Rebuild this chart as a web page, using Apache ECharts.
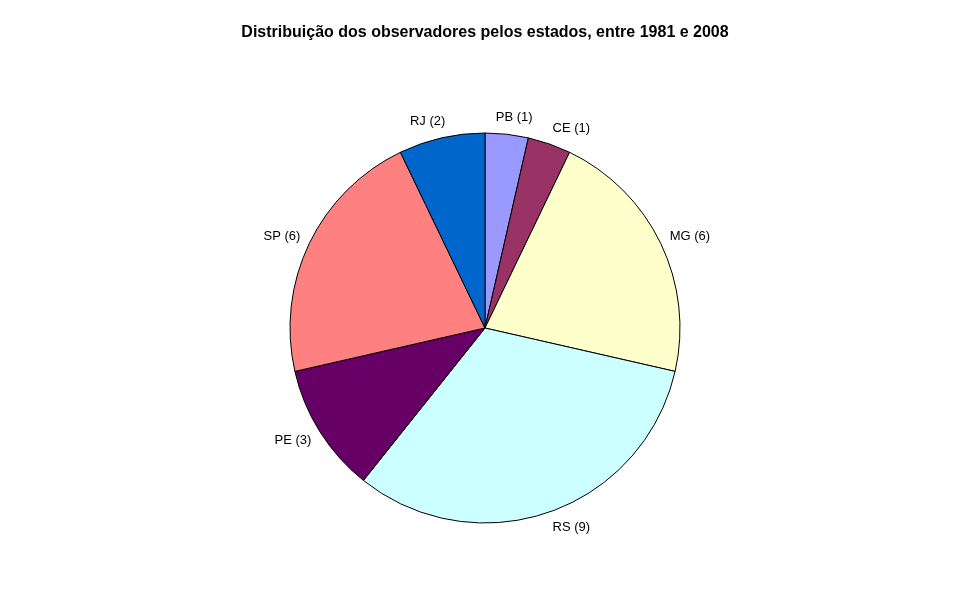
<!DOCTYPE html>
<html>
<head>
<meta charset="utf-8">
<script src="https://cdn.jsdelivr.net/npm/echarts@6/dist/echarts.min.js"></script>
<style>
  html, body { margin: 0; padding: 0; background: #fff; }
  #chart { width: 970px; height: 604px; }
</style>
</head>
<body>
<div id="chart"></div>
<script>
// states, clockwise from 12 o'clock
const states = ['PB', 'CE', 'MG', 'RS', 'PE', 'SP', 'RJ'];
const observers = [1, 1, 6, 9, 3, 6, 2];
const sliceColors = ['#9999ff', '#993366', '#ffffcc', '#ccffff', '#660066', '#ff8080', '#0066cc'];

const chart = echarts.init(document.getElementById('chart'));
const option = {
  animation: false,
  backgroundColor: '#ffffff',
  title: {
    text: 'Distribuição dos observadores pelos estados, entre 1981 e 2008',
    left: 'center', top: 20,
    textStyle: { fontFamily: 'Liberation Sans', fontSize: 16, fontWeight: 'bold', color: '#000' }
  },
  series: [{
    type: 'pie',
    center: ['50%', 328],
    radius: 195,
    startAngle: 90,
    clockwise: true,
    avoidLabelOverlap: false,
    emphasis: { disabled: true },
    data: states.map((s, i) => ({ name: s, value: observers[i], itemStyle: { color: sliceColors[i] } })),
    itemStyle: { borderColor: '#000', borderWidth: 1 },
    label: {
      position: 'outside',
      formatter: p => p.name + ' (' + p.value + ')',
      fontFamily: 'Liberation Sans', fontSize: 13, color: '#000'
    },
    // line kept only to get the anchor point, it is not drawn
    labelLine: { show: true, length: 10, length2: 0, lineStyle: { opacity: 0 } },
    labelLayout: function (p) {
      const pts = p.labelLinePoints;
      if (!pts) return {};
      const a = pts[0], b = pts[1];
      const dx = b[0] - a[0], dy = b[1] - a[1];
      const len = Math.hypot(dx, dy) || 1;
      const sx = dx / len, sy = dy / len;
      const w = p.labelRect.width, h = p.labelRect.height;
      // push the label box away from the pie, roughly like Excel
      const ox = Math.max(-1, Math.min(1, sx * 3));
      const oy = sy;
      return { x: b[0] + ox * w / 2, y: b[1] + oy * h / 2, align: 'center', verticalAlign: 'middle' };
    }
  }]
};
chart.setOption(option);
</script>
</body>
</html>
